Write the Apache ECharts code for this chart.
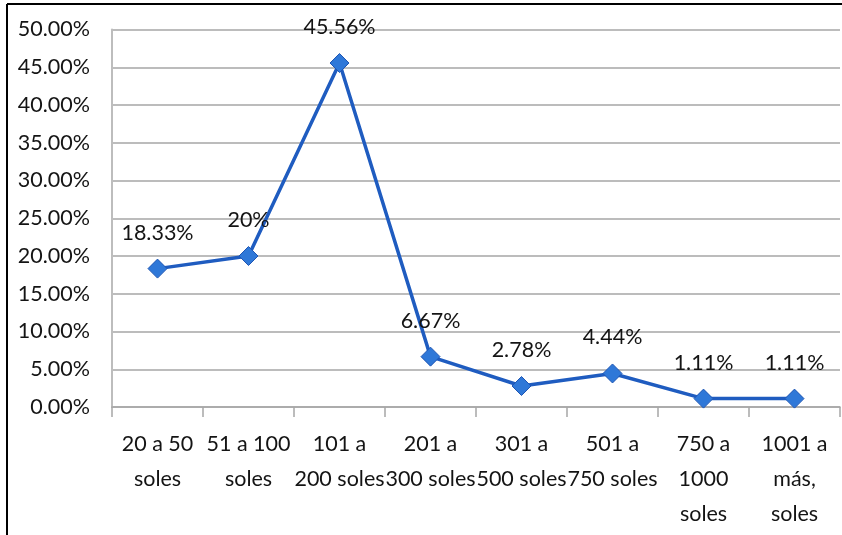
<!DOCTYPE html>
<html>
<head>
<meta charset="utf-8">
<script src="https://cdn.jsdelivr.net/npm/echarts@6/dist/echarts.min.js"></script>
<style>
  html, body { margin: 0; padding: 0; background: #fff; }
  #chart { width: 842px; height: 535px; }
</style>
</head>
<body>
<div id="chart"></div>
<script>
// Rango de gasto en soles y porcentaje de encuestados
const categories = [
  '20 a 50\nsoles',
  '51 a 100\nsoles',
  '101 a\n200 soles',
  '201 a\n300 soles',
  '301 a\n500 soles',
  '501 a\n750 soles',
  '750 a\n1000\nsoles',
  '1001 a\nmás,\nsoles'
];
const percentages = [18.33, 20, 45.56, 6.67, 2.78, 4.44, 1.11, 1.11];
const yMax = 50;
const yStep = 5;

const FONT = 'Lato';
const FONT_SIZE = 21.5;
const chart = echarts.init(document.getElementById('chart'));

chart.setOption({
  animation: false,
  backgroundColor: '#ffffff',
  grid: { left: 112, right: 2, top: 29.5, bottom: 128, containLabel: false },
  xAxis: {
    type: 'category',
    data: categories,
    boundaryGap: true,
    axisLine: { show: true, lineStyle: { color: '#a6a6a6', width: 1.5 } },
    axisTick: { show: true, length: 10, lineStyle: { color: '#a6a6a6', width: 1.5 } },
    axisLabel: {
      interval: 0,
      hideOverlap: false,
      margin: 20,
      color: '#141414',
      fontFamily: FONT,
      fontSize: FONT_SIZE,
      lineHeight: 35,
      align: 'center'
    },
    splitLine: { show: false }
  },
  yAxis: {
    type: 'value',
    min: 0,
    max: yMax,
    interval: yStep,
    axisLine: { show: true, lineStyle: { color: '#bdbdbd', width: 2 } },
    axisTick: { show: false },
    axisLabel: {
      margin: 22,
      color: '#141414',
      fontFamily: FONT,
      fontSize: FONT_SIZE,
      formatter: v => v.toFixed(2) + '%'
    },
    splitLine: { show: true, lineStyle: { color: '#a6a6a6', width: 1.5 } }
  },
  series: [{
    type: 'line',
    data: percentages,
    symbol: 'diamond',
    symbolSize: 19,
    lineStyle: { color: '#1f5cc0', width: 3.5 },
    itemStyle: { color: '#2f78d8', borderColor: '#1f56b4', borderWidth: 1 },
    label: {
      show: true,
      position: 'top',
      distance: 15,
      color: '#141414',
      fontFamily: FONT,
      fontSize: FONT_SIZE,
      formatter: p => String(p.value) + '%'
    },
    z: 3
  }],
  graphic: [
    { type: 'line', shape: { x1: 7, y1: 4, x2: 842, y2: 4 }, style: { stroke: '#000', lineWidth: 2 } },
    { type: 'line', shape: { x1: 7, y1: 4, x2: 7, y2: 535 }, style: { stroke: '#000', lineWidth: 2 } }
  ]
});
</script>
</body>
</html>
